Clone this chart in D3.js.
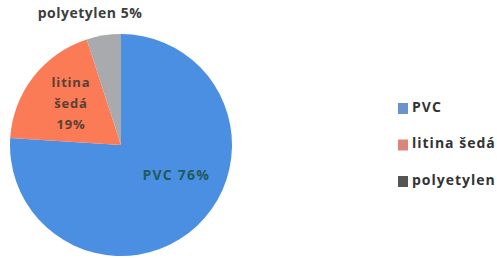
<!DOCTYPE html>
<html>
<head>
<meta charset="utf-8">
<script src="https://cdn.jsdelivr.net/npm/d3@7"></script>
<style>
  body { margin: 0; background: #fff; }
  text { font-family: "Open Sans", sans-serif; font-weight: bold; }
</style>
</head>
<body>
<script>
// chart data
var categories = ["PVC", "litina šedá", "polyetylen"];
var shares = [76, 19, 5];
var colors = ["#4b8fe2", "#fa7b55", "#a9aaad"];
var legendColors = ["#6a93c9", "#d9857a", "#555555"];

var width = 497,
    height = 258;

var svg = d3.select("body")
    .append("svg")
    .attr("width", width)
    .attr("height", height);

var cx = 121, cy = 145, radius = 111;

var data = categories.map(function(c, i) {
    return { name: c, value: shares[i], color: colors[i], legend: legendColors[i] };
});

var pie = d3.pie()
    .sort(null)
    .value(function(d) { return d.value; });

var arc = d3.arc()
    .innerRadius(0)
    .outerRadius(radius);

var g = svg.append("g")
    .attr("transform", "translate(" + cx + "," + cy + ")");

var arcs = pie(data);

g.selectAll("path")
    .data(arcs)
    .enter().append("path")
    .attr("d", arc)
    .attr("fill", function(d) { return d.data.color; });

// slice labels
var pvc = arcs[0], lit = arcs[1], poly = arcs[2];

var pvcPos = d3.arc().innerRadius(0).outerRadius(radius * 0.85).centroid(pvc);
g.append("text")
    .attr("x", pvcPos[0] + 23)
    .attr("y", pvcPos[1] - 3)
    .attr("text-anchor", "middle")
    .attr("dominant-baseline", "middle")
    .attr("fill", "#1f5a60")
    .attr("font-size", 14)
    .attr("letter-spacing", 1.2)
    .text(pvc.data.name + " " + pvc.data.value + "%");

var litPos = d3.arc().innerRadius(0).outerRadius(radius * 1.05).centroid(lit);
var litLines = ["litina", "šedá", lit.data.value + "%"];
g.append("g").selectAll("text")
    .data(litLines)
    .enter().append("text")
    .attr("x", litPos[0] - 4)
    .attr("y", function(d, i) { return litPos[1] - 5 + (i - 1) * 21; })
    .attr("text-anchor", "middle")
    .attr("dominant-baseline", "middle")
    .attr("fill", "#5c3f35")
    .attr("font-size", 13)
    .attr("letter-spacing", 0.8)
    .text(function(d) { return d; });

svg.append("text")
    .attr("x", 90)
    .attr("y", 14)
    .attr("text-anchor", "middle")
    .attr("dominant-baseline", "middle")
    .attr("fill", "#3d3d3d")
    .attr("font-size", 14)
    .attr("letter-spacing", 0.5)
    .text(poly.data.name + " " + poly.data.value + "%");

// legend
var legend = svg.append("g")
    .attr("transform", "translate(398,108)");

var item = legend.selectAll("g")
    .data(data)
    .enter().append("g")
    .attr("transform", function(d, i) { return "translate(0," + (i * 36.5) + ")"; });

item.append("rect")
    .attr("x", 0)
    .attr("y", -5)
    .attr("width", 10)
    .attr("height", 11)
    .attr("fill", function(d) { return d.legend; });

item.append("text")
    .attr("x", 14)
    .attr("y", 0)
    .attr("dominant-baseline", "middle")
    .attr("fill", "#333")
    .attr("font-size", 14)
    .attr("letter-spacing", 1)
    .text(function(d) { return d.name; });
</script>
</body>
</html>
